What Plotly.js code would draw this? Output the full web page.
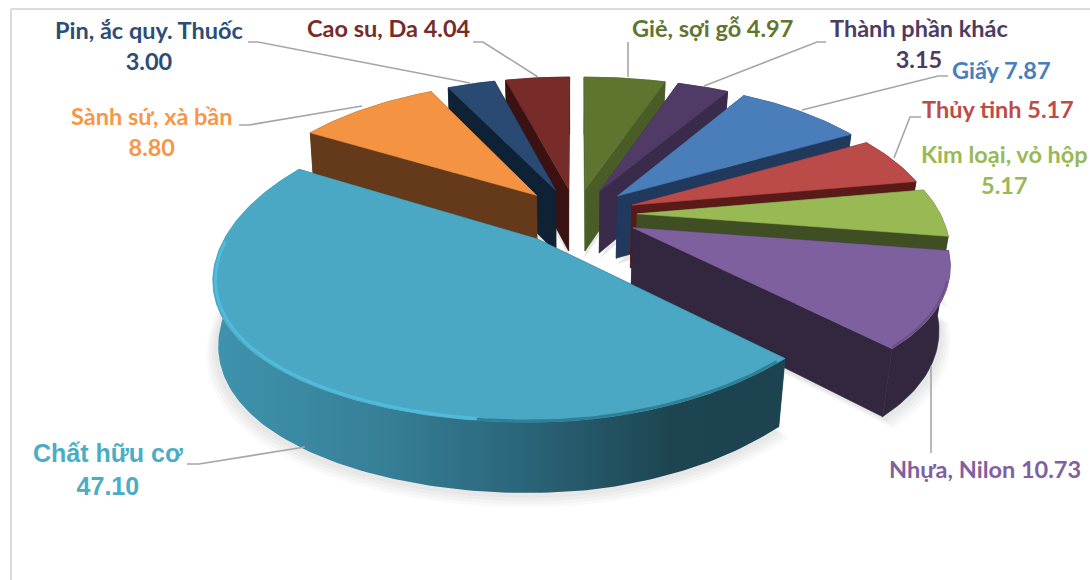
<!DOCTYPE html>
<html>
<head>
<meta charset="utf-8">
<script src="https://cdn.plot.ly/plotly-3.0.1.min.js"></script>
<style>html,body{margin:0;padding:0;background:#fff}#chart{width:1090px;height:580px}</style>
</head>
<body>
<div id="chart"></div>
<script>
const categories = ["Giẻ, sợi gỗ","Thành phần khác","Giấy","Thủy tinh","Kim loại, vỏ hộp","Nhựa, Nilon","Chất hữu cơ","Sành sứ, xà bần","Pin, ắc quy. Thuốc","Cao su, Da"];
const values = [4.97,3.15,7.87,5.17,5.17,10.73,47.10,8.80,3.00,4.04];
const topColors = ["#5e7530","#4f3b66","#4a7ebb","#bb4b48","#98b954","#7f609f","#4aa8c4","#f49342","#2a4a73","#772c2a"];
const sideColors = ["#4a5d26","#3a2b4c","#20395c","#5a1a18","#404f23","#32273f","#1e4a57","#653a1a","#0f2135","#3a1211"];
const textColors = ["#5f7530","#4d3b62","#4a7ebb","#be4b48","#98b954","#7f60a1","#4bacc6","#f79646","#2c4d75","#772c2a"];
const breakAfterName = [false,true,false,false,true,false,true,true,true,false];

// label centres (pixels) and leader paths
const labelX = [712,919,1001,998,1004,985,108,152,149,389];
const labelY = [28,43,70,109,169,469,469,131,45,28];
const leaders = [
  [[628,42],[628,77]],
  [[826,42],[817,42],[704,86]],
  [[948,76],[938,76],[802,110]],
  [[921,117],[910,117],[894,158]],
  null,
  [[931,453],[931,366]],
  [[187,464],[199,464],[305,447]],
  [[239,125],[249,125],[362,106]],
  [[248,42],[258,42],[470,83]],
  [[473,42],[483,42],[538,77]]
];

// projection of the tilted disc
const cx=576, cy=216, Rx=308, Ry=141, persp=0.18, explode=0.2, depth=63, shrinkRight=0.97, shrinkLeft=0.985;
const total = values.reduce((a,b)=>a+b,0);
const starts=[]; let acc=0;
values.forEach(v=>{starts.push(acc/total*2*Math.PI); acc+=v;});
const sweeps = values.map(v=>v/total*2*Math.PI);
const mids = starts.map((s,i)=>s+sweeps[i]/2);

function rawPt(i,phi,r){
  const U=r*Math.sin(phi)+explode*Math.sin(mids[i]);
  const V=r*Math.cos(phi)+explode*Math.cos(mids[i]);
  const W=1+persp*V;
  let x=cx+Rx*U/W, y=cy-Ry*V/W;
  const dx=x-cx, dy=y-cy;
  // small correction for the lens of the original 3-D view
  if(dx>0){
    if(dy<0){ x+=10*(dx/310)*Math.min(1,-dy/130); }
    else    { x-=0.07*dy*Math.min(1,dx/200); }
  }
  y+=8*Math.pow(Math.abs(dx)/340,3);
  return {x:x,y:y,w:W};
}
function topPt(i,phi,r){const p=rawPt(i,phi,r);return [p.x,p.y];}
function bottomPt(i,phi,r,extra){
  const p=rawPt(i,phi,r);
  const s=p.x<cx?shrinkLeft:shrinkRight;
  return [cx+(p.x-cx)*s, p.y+depth/Math.pow(p.w,0.5)+(extra||0)];
}
function arc(fn,i,a,b,r,extra){
  const n=Math.max(4,Math.ceil(Math.abs(b-a)/0.02)),out=[];
  for(let k=0;k<=n;k++){out.push(fn(i,a+(b-a)*k/n,r,extra));}
  return out;
}
function poly(pts,color,extra){
  const xs=pts.map(p=>p[0]),ys=pts.map(p=>p[1]);
  xs.push(xs[0]);ys.push(ys[0]);
  return Object.assign({type:"scatter",mode:"lines",x:xs,y:ys,fill:"toself",fillcolor:color,
    line:{color:color,width:0.6},hoverinfo:"skip",showlegend:false},extra||{});
}
function strokeLine(pts,color,width){
  return {type:"scatter",mode:"lines",x:pts.map(p=>p[0]),y:pts.map(p=>p[1]),
    line:{color:color,width:width,shape:"linear"},hoverinfo:"skip",showlegend:false};
}

const traces=[];
// soft shadow
[0.036,0.028,0.02,0.012].forEach((k,idx)=>{
  values.forEach((v,i)=>{
    const a=starts[i],b=a+sweeps[i];
    const pts=arc(bottomPt,i,a,b,1+k,5*(4-idx)/4+1);
    pts.push(bottomPt(i,mids[i],0,6));
    traces.push(poly(pts,"rgba(0,0,0,0.025)",{line:{width:0}}));
  });
});
// slices back to front
const order = values.map((v,i)=>i).sort((p,q)=>Math.cos(mids[q])-Math.cos(mids[p]));
order.forEach(i=>{
  const a=starts[i],b=a+sweeps[i];
  [a,b].forEach(e=>{
    traces.push(poly([topPt(i,e,0),topPt(i,e,1),bottomPt(i,e,1),bottomPt(i,e,0)],sideColors[i]));
  });
  const rim=arc(topPt,i,a,b,1).concat(arc(bottomPt,i,a,b,1).reverse());
  const isMain = values[i]===Math.max.apply(null,values);
  traces.push(poly(rim,sideColors[i],isMain?{
    fillgradient:{type:"horizontal",colorscale:[[0,"#3f93ad"],[0.3,"#367f97"],[0.55,"#2a6478"],[0.8,"#1d4551"],[1,"#1c434f"]]},
    line:{width:0}
  }:{}));
  traces.push(poly(arc(topPt,i,a,b,1).concat([topPt(i,a,0)]),topColors[i]));
  if(isMain){
    traces.push(strokeLine(arc(topPt,i,a+sweeps[i]*0.01,a+sweeps[i]*0.32,0.995),"#2f8097",3));
    traces.push(strokeLine(arc(topPt,i,a+sweeps[i]*0.32,a+sweeps[i]*0.82,0.992),"#4fbcdc",3));
  }
  if(values[i]===10.73){
    traces.push(strokeLine(arc(topPt,i,a+sweeps[i]*0.3,b-sweeps[i]*0.01,0.995),"#6a5186",2));
  }
});

const annotations = categories.map((c,i)=>({
  xref:"x",yref:"y",x:labelX[i],y:labelY[i],xanchor:"center",yanchor:"middle",showarrow:false,
  align:"center",
  text:c+(breakAfterName[i]?"<br>":" ")+values[i].toFixed(2),
  font:{family:c==="Chất hữu cơ"?"Liberation Sans":"Lato, 'Noto Sans', sans-serif",
        size:c==="Chất hữu cơ"?25:23.5,color:textColors[i],weight:700}
}));

const shapes = leaders.filter(l=>l).map(l=>({
  type:"path",xref:"x",yref:"y",layer:"above",
  path:l.map((p,k)=>(k?"L":"M")+p[0]+","+p[1]).join(" "),
  line:{color:"#a6a6a6",width:1.6}
}));
shapes.push({type:"line",xref:"x",yref:"y",x0:11,y0:9,x1:1090,y1:9,line:{color:"#dcdcdc",width:2},layer:"below"});
shapes.push({type:"line",xref:"x",yref:"y",x0:11,y0:9,x1:11,y1:580,line:{color:"#dcdcdc",width:2},layer:"below"});

Plotly.newPlot("chart",traces,{
  width:1090,height:580,margin:{l:0,r:0,t:0,b:0},
  paper_bgcolor:"#fff",plot_bgcolor:"#fff",showlegend:false,
  xaxis:{range:[0,1090],visible:false,fixedrange:true},
  yaxis:{range:[580,0],visible:false,fixedrange:true},
  annotations:annotations,shapes:shapes
},{displayModeBar:false,staticPlot:true});
</script>
</body>
</html>
